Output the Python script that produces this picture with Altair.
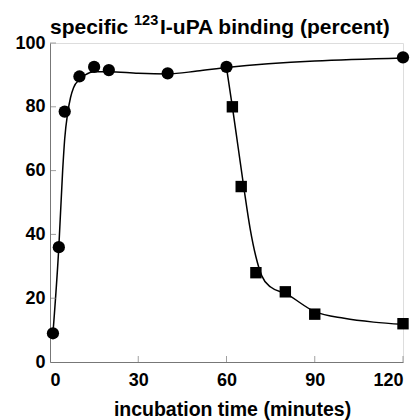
import altair as alt
import pandas as pd

# Data
circ_x = [1, 3, 5, 10, 15, 20, 40, 60, 120]
circ_y = [9, 36, 78.5, 89.5, 92.5, 91.5, 90.5, 92.5, 95.5]
sq_x = [62, 65, 70, 80, 90, 120]
sq_y = [80, 55, 28, 22, 15, 12]
rise_x = [1, 3, 4.3, 5, 6, 7, 8, 10, 12, 15, 20, 30, 40, 50, 60, 120]
rise_y = [9, 36, 60, 70, 78, 83, 86, 88.5, 90, 91, 91, 90.5, 90.3, 91.2, 92.3, 95.3]
fall_x = [60, 62, 64, 66, 68, 70, 72, 75, 80, 90, 100, 110, 120]
fall_y = [92.3, 80, 67, 54, 42, 33, 27, 23.5, 21.5, 15.8, 13.7, 12.5, 11.8]
x_ticks = [0, 30, 60, 90, 120]
y_ticks = [0, 20, 40, 60, 80, 100]
title_parts = ["specific", "123", "I-uPA binding (percent)"]

FONT = "Liberation Sans"

circles = pd.DataFrame({"t": circ_x, "v": circ_y})
squares = pd.DataFrame({"t": sq_x, "v": sq_y})
rise = pd.DataFrame({"t": rise_x, "v": rise_y})
fall = pd.DataFrame({"t": fall_x, "v": fall_y})
xt = pd.DataFrame({"t": x_ticks[1:]})
yt = pd.DataFrame({"v": y_ticks[1:]})
one = pd.DataFrame({"k": [0]})

xscale = alt.Scale(domain=[0, 120], nice=False, zero=False)
yscale = alt.Scale(domain=[0, 100], nice=False)

xaxis = alt.Axis(values=x_ticks, title="incubation time (minutes)", grid=False,
                 domainColor="#777", tickSize=0, labelPadding=9,
                 labelFont=FONT, labelFontSize=18, labelFontWeight="bold", labelColor="black",
                 titleFont=FONT, titleFontSize=19.5, titleFontWeight="bold", titleColor="black",
                 titlePadding=11, titleX=182, titleAlign="center")
yaxis = alt.Axis(values=y_ticks, title=None, grid=False,
                 domainColor="#777", tickSize=0, labelPadding=5,
                 labelFont=FONT, labelFontSize=18, labelFontWeight="bold", labelColor="black")

base_x = alt.X("t:Q", scale=xscale, axis=xaxis)
base_y = alt.Y("v:Q", scale=yscale, axis=yaxis)

rise_line = alt.Chart(rise).mark_line(color="black", strokeWidth=1.5, interpolate="monotone").encode(
    x=base_x, y=base_y)
fall_line = alt.Chart(fall).mark_line(color="black", strokeWidth=1.5, interpolate="monotone").encode(
    x="t:Q", y="v:Q")
circ_pts = alt.Chart(circles).mark_point(shape="circle", filled=True, color="black", size=150, opacity=1).encode(
    x="t:Q", y="v:Q")
sq_pts = alt.Chart(squares).mark_point(shape="square", filled=True, color="black", size=130, opacity=1).encode(
    x="t:Q", y="v:Q")
xtick_marks = alt.Chart(xt).mark_tick(orient="vertical", size=6, thickness=1, color="#777", yOffset=-3).encode(
    x="t:Q", y=alt.datum(0))
ytick_marks = alt.Chart(yt).mark_tick(orient="horizontal", size=6, thickness=1, color="#777", xOffset=3).encode(
    y="v:Q", x=alt.datum(0))

tA = alt.Chart(one).mark_text(text=title_parts[0], font=FONT, fontSize=21, fontWeight="bold",
                              align="left", baseline="alphabetic", color="black").encode(
    x=alt.value(0), y=alt.value(-9))
tB = alt.Chart(one).mark_text(text=title_parts[1], font=FONT, fontSize=14.5, fontWeight="bold",
                              align="left", baseline="alphabetic", color="black").encode(
    x=alt.value(84), y=alt.value(-18))
tC = alt.Chart(one).mark_text(text=title_parts[2], font=FONT, fontSize=21, fontWeight="bold",
                              align="left", baseline="alphabetic", color="black").encode(
    x=alt.value(110), y=alt.value(-9))

chart = alt.layer(rise_line, fall_line, xtick_marks, ytick_marks, circ_pts, sq_pts, tA, tB, tC).properties(
    width=353, height=319,
    autosize=alt.AutoSizeParams(type="none"),
    padding={"left": 42, "top": 35, "right": 9, "bottom": 58},
).configure_view(stroke=None).configure(background="white")

chart.save("out.html", embed_options={"renderer": "svg", "actions": False})
